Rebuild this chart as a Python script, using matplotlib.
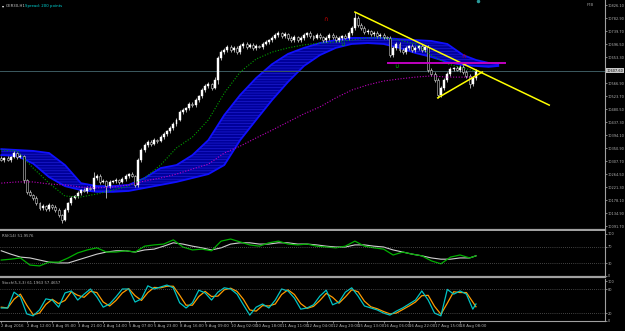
import numpy as np
import matplotlib.pyplot as plt
import matplotlib.transforms as mtransforms

# GER30 H1, 2-18 Aug 2016 (one candle ~ 2 bars of the original)
first_open = 10318
closes = [10312, 10318, 10312, 10322, 10335, 10322, 10325, 10245, 10206, 10196,
          10186, 10169, 10152, 10159, 10149, 10162, 10156, 10146, 10129, 10113,
          10146, 10169, 10186, 10192, 10202, 10212, 10209, 10219, 10216, 10252,
          10259, 10239, 10242, 10225, 10239, 10242, 10245, 10239, 10249, 10259,
          10265, 10259, 10229, 10312, 10345, 10362, 10372, 10365, 10378, 10375,
          10388, 10398, 10408, 10418, 10431, 10445, 10471, 10478, 10484, 10498,
          10494, 10511, 10524, 10544, 10557, 10564, 10551, 10577, 10650, 10670,
          10677, 10687, 10677, 10684, 10670, 10690, 10697, 10687, 10694, 10684,
          10690, 10687, 10697, 10704, 10710, 10717, 10727, 10733, 10723, 10730,
          10717, 10710, 10720, 10710, 10717, 10727, 10733, 10723, 10717, 10727,
          10720, 10710, 10717, 10727, 10720, 10710, 10717, 10723, 10717, 10733,
          10750, 10783, 10760, 10750, 10737, 10740, 10730, 10733, 10723, 10727,
          10720, 10717, 10660, 10684, 10697, 10677, 10670, 10684, 10690, 10677,
          10684, 10690, 10677, 10687, 10611, 10597, 10577, 10528, 10551, 10577,
          10597, 10614, 10617, 10611, 10621, 10604, 10591, 10564, 10584, 10607]
wick_hi = [6, 5, 7, 4, 8, 5, 6, 4, 5, 6, 4, 6, 5, 7, 5, 6, 4, 5, 6, 5,
           7, 5, 6, 5, 7, 4, 6, 5, 6, 20, 6, 5, 7, 5, 6, 4, 6, 5, 7, 6,
           5, 6, 4, 8, 7, 6, 5, 7, 6, 5, 7, 6, 5, 6, 7, 5, 8, 6, 5, 7,
           6, 7, 5, 8, 6, 7, 5, 9, 8, 6, 7, 5, 6, 5, 7, 6, 5, 6, 7, 5,
           6, 5, 7, 6, 5, 7, 6, 8, 5, 6, 5, 7, 6, 5, 6, 7, 5, 6, 5, 7,
           6, 5, 7, 6, 5, 6, 7, 5, 6, 8, 7, 20, 6, 5, 7, 6, 5, 6, 7, 5,
           6, 5, 8, 6, 7, 5, 6, 7, 5, 6, 7, 5, 6, 8, 6, 5, 7, 6, 8, 7,
           6, 7, 5, 8, 6, 7, 5, 6, 7, 6]
wick_lo = [5, 6, 5, 7, 5, 6, 4, 10, 6, 5, 7, 5, 6, 5, 8, 5, 6, 7, 5, 10,
           5, 7, 6, 5, 6, 7, 5, 6, 5, 6, 7, 6, 5, 40, 6, 5, 7, 6, 5, 6,
           6, 5, 7, 6, 8, 5, 7, 6, 5, 6, 5, 7, 6, 5, 6, 7, 5, 6, 7, 5,
           6, 5, 7, 6, 5, 6, 8, 5, 12, 6, 5, 6, 7, 5, 6, 5, 7, 6, 5, 6,
           7, 5, 6, 5, 7, 6, 5, 6, 7, 5, 6, 5, 7, 6, 5, 6, 7, 5, 6, 5,
           7, 6, 5, 7, 6, 5, 6, 7, 5, 6, 5, 6, 7, 5, 6, 7, 5, 6, 5, 6,
           7, 5, 6, 5, 8, 6, 7, 5, 6, 7, 5, 6, 7, 5, 8, 6, 7, 10, 6, 7,
           5, 6, 7, 5, 6, 8, 6, 13, 7, 6]
last_price = 10607.6

date_labels = ["2 Aug 2016", "2 Aug 12:00", "3 Aug 05:00", "3 Aug 21:00", "4 Aug 14:00",
               "5 Aug 07:00", "5 Aug 23:00", "8 Aug 16:00", "9 Aug 09:00", "10 Aug 02:00",
               "10 Aug 18:00", "11 Aug 11:00", "12 Aug 04:00", "12 Aug 20:00", "15 Aug 13:00",
               "16 Aug 06:00", "16 Aug 22:00", "17 Aug 15:00", "18 Aug 08:00"]
price_ticks = [10826.10, 10782.90, 10739.70, 10696.50, 10653.30, 10566.90, 10523.70,
               10480.50, 10437.30, 10394.10, 10350.90, 10307.70, 10264.50, 10221.30,
               10178.10, 10134.90, 10091.70]

ma_bars = list(range(0, 150, 5)) + [149]
ma_green = [10345, 10342, 10285, 10235, 10192, 10189, 10199, 10212, 10225, 10252,
            10295, 10352, 10388, 10445, 10534, 10604, 10647, 10670, 10684, 10694,
            10700, 10704, 10710, 10717, 10717, 10710, 10697, 10660, 10631, 10617, 10607]
ma_purple = [10235, 10239, 10239, 10232, 10229, 10222, 10219, 10222, 10229, 10242,
             10252, 10265, 10282, 10298, 10335, 10358, 10385, 10411, 10438, 10465,
             10488, 10518, 10544, 10561, 10574, 10581, 10587, 10591, 10587, 10587, 10587]

ribbon_bars = list(range(0, 150, 5)) + [149, 153, 156]
ribbon_top = [10348, 10345, 10342, 10335, 10295, 10235, 10225, 10225, 10229, 10252,
              10285, 10295, 10328, 10378, 10461, 10528, 10584, 10630, 10664, 10684,
              10700, 10710, 10717, 10717, 10717, 10713, 10710, 10707, 10697, 10660,
              10644, 10634, 10630]
ribbon_bot = [10328, 10325, 10300, 10255, 10225, 10212, 10206, 10206, 10209, 10219,
              10229, 10239, 10252, 10265, 10295, 10378, 10445, 10511, 10571, 10624,
              10660, 10684, 10697, 10700, 10697, 10684, 10667, 10654, 10637, 10627,
              10624, 10621, 10624]

trend_down = ([111, 172], [10803, 10494])
trend_up = ([137, 151], [10518, 10604])
level_line = ([121.3, 158], 10634)
red_marks = ([101.6, 145], [10777, 10654])
green_marks = ([107, 124], [10694, 10621])

rsi_bars = list(range(0, 150, 3)) + [149]
rsi = [38, 40, 43, 26, 24, 33, 33, 43, 55, 62, 67, 57, 57, 60, 57, 71, 74, 76, 86, 69,
       62, 64, 60, 83, 88, 81, 74, 71, 79, 83, 76, 74, 76, 71, 69, 67, 71, 83, 71, 67,
       64, 50, 57, 52, 48, 36, 29, 45, 50, 43, 48]
rsi_sig = [60, 52, 45, 43, 38, 33, 31, 31, 38, 45, 52, 57, 60, 60, 57, 62, 64, 71, 79, 76,
           71, 67, 62, 67, 76, 79, 79, 76, 76, 79, 79, 76, 76, 74, 71, 69, 69, 74, 74, 71,
           69, 62, 57, 52, 48, 43, 40, 40, 43, 43, 48]

stoch_bars = list(range(0, 150, 2)) + [149]
stoch_k = [33, 33, 73, 61, 18, 13, 28, 56, 53, 35, 71, 76, 53, 68, 81, 61, 35, 43, 61, 81,
           81, 48, 56, 89, 81, 86, 91, 84, 46, 33, 46, 78, 71, 53, 73, 84, 81, 68, 41, 15,
           35, 43, 33, 53, 81, 76, 58, 30, 33, 41, 63, 78, 41, 48, 73, 84, 63, 38, 33, 28,
           20, 15, 25, 33, 43, 53, 76, 53, 20, 13, 80, 68, 76, 68, 30, 43]
stoch_d = [35, 33, 55, 68, 40, 16, 20, 42, 55, 44, 52, 74, 65, 60, 75, 72, 48, 38, 52, 71,
           82, 64, 52, 72, 85, 84, 88, 88, 65, 40, 40, 62, 75, 62, 63, 79, 83, 75, 55, 28,
           25, 39, 38, 43, 67, 79, 67, 44, 32, 37, 52, 70, 60, 45, 61, 79, 74, 50, 36, 31,
           24, 18, 20, 29, 38, 48, 64, 65, 37, 17, 45, 74, 72, 72, 48, 36]

plt.rcParams['hatch.linewidth'] = 0.35
W, H = 625, 331
fig = plt.figure(figsize=(W / 100, H / 100), dpi=100, facecolor='black')


def box(top, bottom):
    return [0, 1 - bottom / H, 605 / W, (bottom - top) / H]


ax = fig.add_axes(box(0, 230))
ax_rsi = fig.add_axes(box(231, 277))
ax_sto = fig.add_axes(box(279, 321))

grey = '#b4b4b4'
fs = 2.8
fs_y = 2.5
for a in (ax, ax_rsi, ax_sto):
    a.set_facecolor('black')
    a.set_xlim(-0.4, 189.5)
    for s in ('left', 'top'):
        a.spines[s].set_visible(False)
    a.spines['right'].set_color('#a0a0a0')
    a.spines['right'].set_linewidth(0.8)
    a.spines['bottom'].set_color('#a0a0a0')
    a.spines['bottom'].set_linewidth(1.6)
    a.yaxis.tick_right()
    a.tick_params(axis='y', labelsize=fs_y, colors=grey, length=1.5, width=0.5, pad=0.6)
    a.tick_params(axis='x', labelsize=fs, colors=grey, length=1.5, width=0.5, pad=0.8)

# main price panel
c = np.array(closes, dtype=float)
o = np.array([first_open] + closes[:-1], dtype=float)
x = np.arange(len(c))
hi = np.maximum(o, c) + np.array(wick_hi)
lo = np.minimum(o, c) - np.array(wick_lo)
up = c >= o

ax.fill_between(ribbon_bars, ribbon_bot, ribbon_top, facecolor='#00009a',
                edgecolor='#2828e8', hatch='------', lw=0, zorder=1)
ax.plot(ribbon_bars, ribbon_top, color='#1010ff', lw=1.3, zorder=1.5)
ax.plot(ribbon_bars, ribbon_bot, color='#1010ff', lw=1.3, zorder=1.5)

ax.vlines(x, lo, hi, color='#c8c8c8', lw=0.6, zorder=3)
ax.bar(x[up], (c - o)[up], bottom=o[up], width=0.62, color='white',
       edgecolor='white', lw=0.3, zorder=4)
ax.bar(x[~up], (o - c)[~up], bottom=c[~up], width=0.62, color='black',
       edgecolor='#d0d0d0', lw=0.4, zorder=4)

ax.plot(ma_bars, ma_green, color='#00a000', lw=0.8, ls=(0, (1, 1.5)), zorder=5)
ax.plot(ma_bars, ma_purple, color='#c000c0', lw=0.8, ls=(0, (1, 1.5)), zorder=5)

ax.axhline(last_price, color='#3c5a60', lw=0.7, zorder=2)
ax.plot(trend_down[0], trend_down[1], color='#ffff00', lw=1.1, zorder=6)
ax.plot(trend_up[0], trend_up[1], color='#ffff00', lw=1.1, zorder=6)
ax.plot(level_line[0], [level_line[1]] * 2, color='#c000c0', lw=1.4, zorder=6)
for xx, yy in zip(*red_marks):
    ax.text(xx, yy, '\u2229', color='#d00000', fontsize=4.5, ha='center', va='center', zorder=7)
for xx, yy in zip(*green_marks):
    ax.text(xx, yy, '\u222a', color='#00b000', fontsize=4.5, ha='center', va='center', zorder=7)
ax.plot([149.5], [10840], 'o', color='#2a9a9a', ms=1.5, zorder=7)

ax.set_ylim(10843 - 3.32 * 230, 10843)
ax.set_yticks(price_ticks)
ax.set_yticklabels([f"{v:.2f}" for v in price_ticks])
ax.set_xticks([])
tr = mtransforms.blended_transform_factory(ax.transAxes, ax.transData)
ax.text(1.003, last_price, f"{last_price:.2f}", transform=tr, fontsize=fs_y, color='black',
        va='center', ha='left', clip_on=False,
        bbox=dict(fc='#c8c8c8', ec='none', boxstyle='square,pad=0.12'))

fig.text(2 / W, 1 - 6 / H, '\u25be', color='white', fontsize=3, va='center')
fig.text(6 / W, 1 - 6 / H, 'GER30,H1', color='#c8c8c8', fontsize=fs, va='center')
fig.text(25 / W, 1 - 6 / H, 'Spread: 200 points', color='#00d8d8', fontsize=fs, va='center')
fig.text(587 / W, 1 - 5 / H, 'FTB', color='#a0a0a0', fontsize=2.8, va='center')

# RSI panel
ax_rsi.plot(rsi_bars, rsi_sig, color='#d0d0d0', lw=0.8)
ax_rsi.plot(rsi_bars, rsi, color='#00b000', lw=0.9)
for lv in (70, 30):
    ax_rsi.axhline(lv, color='#808080', lw=0.5, ls=(0, (1, 2)))
ax_rsi.set_ylim(-2.4, 107.1)
ax_rsi.set_yticks([100, 70, 30, 0])
ax_rsi.set_xticks([])
ax_rsi.text(0.003, 0.93, 'RSI(14) 51.9576', transform=ax_rsi.transAxes, color=grey,
            fontsize=fs, va='top')

# Stochastic panel
ax_sto.plot(stoch_bars, stoch_d, color='#ff9a00', lw=0.9)
ax_sto.plot(stoch_bars, stoch_k, color='#00c4c4', lw=0.9)
for lv in (80, 20):
    ax_sto.axhline(lv, color='#808080', lw=0.5, ls=(0, (1, 2)))
ax_sto.set_ylim(0, 106.3)
ax_sto.set_yticks([100, 80, 20, 0])
ax_sto.spines['bottom'].set_linewidth(0.8)
ax_sto.set_xticks([8 * i for i in range(len(date_labels))])
ax_sto.set_xticklabels(date_labels)
for lbl in ax_sto.get_xticklabels():
    lbl.set_ha('left')
ax_sto.text(0.003, 0.95, 'Stoch(5,3,3) 61.1963 57.4657', transform=ax_sto.transAxes,
            color=grey, fontsize=fs, va='top')

fig.savefig('out.png', dpi=100, facecolor='black')
